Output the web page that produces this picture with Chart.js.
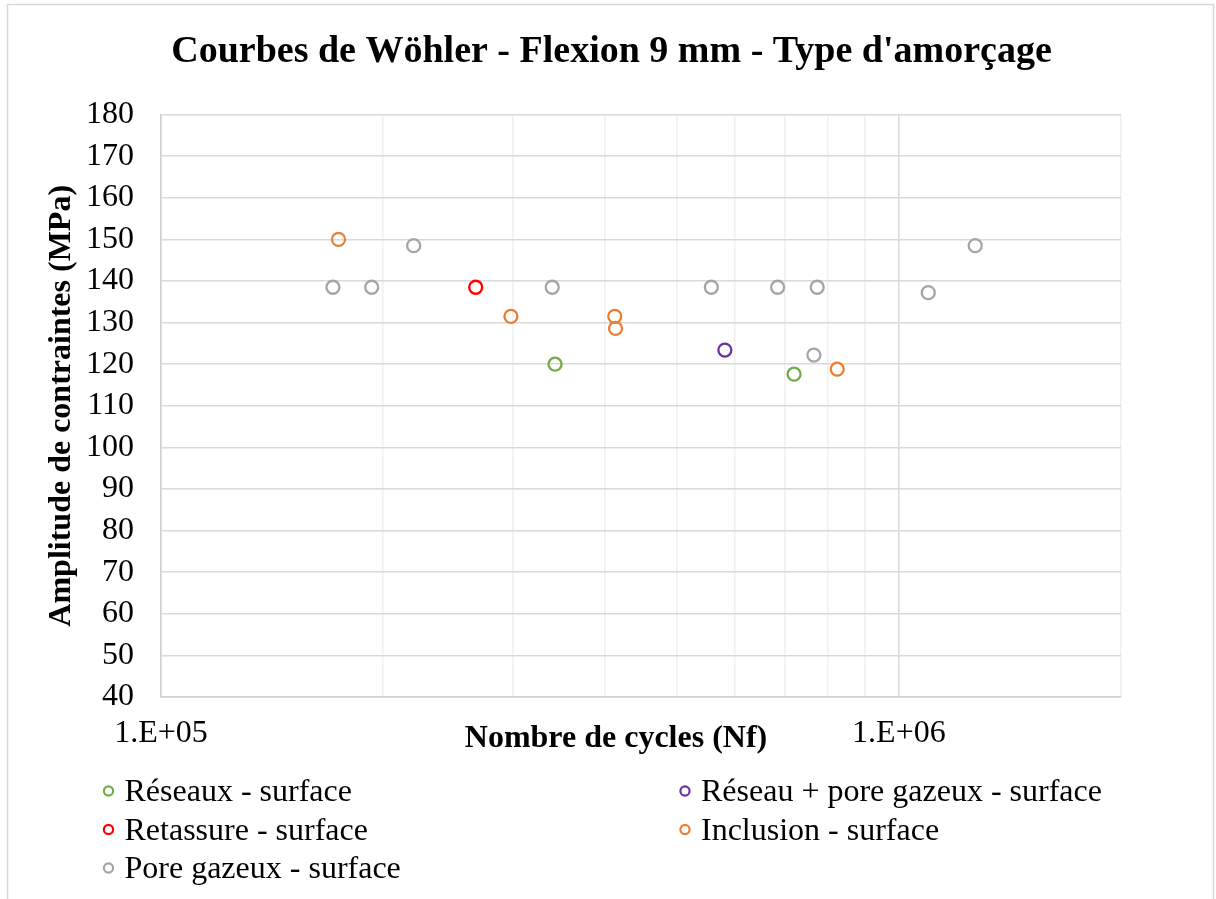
<!DOCTYPE html>
<html lang="fr">
<head>
<meta charset="utf-8">
<title>Courbes de Wöhler - Flexion 9 mm - Type d'amorçage</title>
<script src="https://cdn.jsdelivr.net/npm/chart.js@4.4.1/dist/chart.umd.min.js"></script>
<style>
  html, body { margin: 0; padding: 0; background: #ffffff; }
  #wrap { position: relative; width: 1216px; height: 899px; }
</style>
</head>
<body>
<div id="wrap"><canvas id="wohler"></canvas></div>
<script>
const SERIF = "'Liberation Serif', 'Times New Roman', Times, serif";

// Nombre de cycles à rupture (Nf) et amplitude de contrainte (MPa), par type d'amorçage
const reseauxCycles = [342000, 721000];
const reseauxAmp = [120.0, 117.6];

const reseauPoreCycles = [581000];
const reseauPoreAmp = [123.4];

const retassureCycles = [267000];
const retassureAmp = [138.5];

const inclusionCycles = [174000, 298000, 412000, 413000, 825000];
const inclusionAmp = [150.0, 131.5, 131.5, 128.6, 118.8];

const poreCycles = [171000, 193000, 220000, 339000, 557000, 685000, 775000, 767000, 1096000, 1269000];
const poreAmp = [138.5, 138.5, 148.5, 138.5, 138.5, 138.5, 138.5, 122.2, 137.2, 148.5];

const seriesNames = [
  'Réseaux - surface',
  'Réseau + pore gazeux - surface',
  'Retassure - surface',
  'Inclusion - surface',
  'Pore gazeux - surface'
];
const seriesColors = ['#70AD47', '#7030A0', '#FF0000', '#ED7D31', '#A5A5A5'];

// Axe des abscisses (échelle log) : graduations et libellés
const xTickValues = [1e5, 2e5, 3e5, 4e5, 5e5, 6e5, 7e5, 8e5, 9e5, 1e6, 2e6];
const xTickLabels = ['1.E+05', '', '', '', '', '', '', '', '', '1.E+06', ''];
const xMajorValues = [1e5, 1e6];

// Axe des ordonnées
const yMin = 40;
const yMax = 180;
const yStep = 10;

const chartTitle = "Courbes de Wöhler - Flexion 9 mm - Type d'amorçage";
const xAxisTitle = 'Nombre de cycles (Nf)';
const yAxisTitle = 'Amplitude de contraintes (MPa)';

function toPoints(cycles, amps) {
  return cycles.map((n, i) => ({ x: n, y: amps[i] }));
}

const seriesData = [
  toPoints(reseauxCycles, reseauxAmp),
  toPoints(reseauPoreCycles, reseauPoreAmp),
  toPoints(retassureCycles, retassureAmp),
  toPoints(inclusionCycles, inclusionAmp),
  toPoints(poreCycles, poreAmp)
];

const datasets = seriesNames.map((name, i) => ({
  label: name,
  data: seriesData[i],
  xAxisID: 'x',
  yAxisID: 'y',
  showLine: false,
  pointStyle: 'circle',
  pointRadius: 6.5,
  pointBorderWidth: 2.3,
  pointBorderColor: seriesColors[i],
  pointBackgroundColor: 'rgba(0,0,0,0)',
  borderColor: seriesColors[i],
  backgroundColor: 'rgba(0,0,0,0)'
}));

// Fond blanc et cadre gris clair autour du graphique
const framePlugin = {
  id: 'frame',
  beforeDraw(chart) {
    const ctx = chart.ctx;
    ctx.save();
    ctx.fillStyle = '#ffffff';
    ctx.fillRect(0, 0, chart.width, chart.height);
    ctx.strokeStyle = '#D9D9D9';
    ctx.lineWidth = 1.5;
    ctx.strokeRect(7.5, 4.5, 1206, chart.height + 20);
    ctx.restore();
  }
};

// Titre de l'axe des abscisses, sur la ligne des graduations
const xTitlePlugin = {
  id: 'xTitle',
  afterDraw(chart) {
    const ctx = chart.ctx;
    const area = chart.chartArea;
    ctx.save();
    ctx.font = 'bold 32px ' + SERIF;
    ctx.fillStyle = '#000000';
    ctx.textAlign = 'center';
    ctx.textBaseline = 'alphabetic';
    ctx.fillText(xAxisTitle, chart.width / 2 + 8, area.bottom + 50);
    ctx.restore();
  }
};

// Légende en deux colonnes sous le graphique
const gridLegendPlugin = {
  id: 'gridLegend',
  afterDraw(chart) {
    const ctx = chart.ctx;
    const area = chart.chartArea;
    const colX = [108.5, 685];
    const rowH = 38.5;
    ctx.save();
    ctx.font = '32px ' + SERIF;
    ctx.textAlign = 'left';
    ctx.textBaseline = 'alphabetic';
    chart.data.datasets.forEach((ds, i) => {
      const col = i % 2;
      const row = Math.floor(i / 2);
      const base = area.bottom + 104 + row * rowH;
      const mx = colX[col];
      ctx.beginPath();
      ctx.arc(mx, base - 10, 4.6, 0, Math.PI * 2);
      ctx.strokeStyle = ds.borderColor;
      ctx.lineWidth = 2.2;
      ctx.stroke();
      ctx.fillStyle = '#000000';
      ctx.fillText(ds.label, mx + 16, base);
    });
    ctx.restore();
  }
};

new Chart(document.getElementById('wohler'), {
  type: 'scatter',
  data: { datasets },
  plugins: [framePlugin, xTitlePlugin, gridLegendPlugin],
  options: {
    responsive: true,
    maintainAspectRatio: false,
    animation: false,
    events: [],
    layout: { padding: { left: 7, right: 0, top: 0, bottom: 150 } },
    plugins: {
      legend: { display: false },
      tooltip: { enabled: false },
      title: {
        display: true,
        text: chartTitle,
        color: '#000000',
        font: { family: SERIF, size: 38, weight: 'bold' },
        padding: { top: 29, bottom: 40 }
      }
    },
    scales: {
      x: {
        type: 'logarithmic',
        position: 'bottom',
        min: xTickValues[0],
        max: xTickValues[xTickValues.length - 1],
        afterBuildTicks(scale) {
          scale.ticks = xTickValues.map(v => ({ value: v }));
        },
        afterFit(scale) { scale.height = 52; },
        ticks: {
          autoSkip: false,
          maxRotation: 0,
          minRotation: 0,
          padding: 17,
          color: '#000000',
          font: { family: SERIF, size: 32 },
          callback(value, index) { return xTickLabels[index]; }
        },
        grid: {
          drawTicks: false,
          lineWidth: 1.5,
          color(ctx) {
            const v = ctx.tick ? ctx.tick.value : 0;
            return xMajorValues.includes(v) ? '#D9D9D9' : '#F0F0F0';
          }
        },
        border: { display: true, color: '#D0D0D0', width: 1.5 }
      },
      y: {
        type: 'linear',
        position: 'left',
        min: yMin,
        max: yMax,
        afterFit(scale) { scale.width = 154; },
        ticks: {
          stepSize: yStep,
          padding: 27,
          color: '#000000',
          font: { family: SERIF, size: 32 }
        },
        grid: {
          drawTicks: false,
          lineWidth: 1.5,
          color: '#D9D9D9'
        },
        border: { display: true, color: '#D0D0D0', width: 1.5 },
        title: {
          display: true,
          text: yAxisTitle,
          color: '#000000',
          font: { family: SERIF, size: 32, weight: 'bold' },
          padding: { top: 36, bottom: 0 }
        }
      },
      yRight: {
        type: 'linear',
        position: 'right',
        display: true,
        afterFit(scale) { scale.width = 95; },
        ticks: { display: false },
        grid: { display: false, drawTicks: false },
        border: { display: false }
      }
    }
  }
});
</script>
</body>
</html>
